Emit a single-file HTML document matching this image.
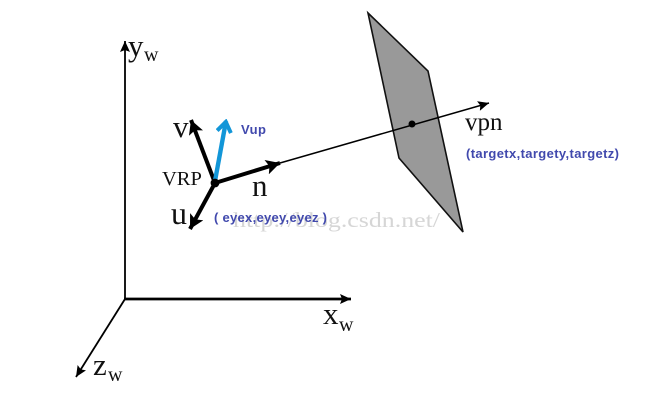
<!DOCTYPE html>
<html>
<head>
<meta charset="utf-8">
<style>
html,body{margin:0;padding:0;background:#fff;}
svg{display:block;}
.s{font-family:"Liberation Serif",serif;fill:#111;}
.b{font-family:"Liberation Sans",sans-serif;font-weight:bold;fill:#4149ad;}
</style>
</head>
<body>
<svg width="654" height="418" viewBox="0 0 654 418">
<defs>
<marker id="ah" markerUnits="userSpaceOnUse" markerWidth="12" markerHeight="10" refX="11" refY="5" orient="auto"><path d="M0,0 L11,5 L0,10 L2,5 Z" fill="#000"/></marker>
<marker id="ahb" markerUnits="userSpaceOnUse" markerWidth="15" markerHeight="15" refX="14" refY="7.5" orient="auto"><path d="M0,0 L14,7.5 L0,15 L3,7.5 Z" fill="#000"/></marker>
<marker id="ahc" markerUnits="userSpaceOnUse" markerWidth="16" markerHeight="17" refX="14" refY="8.5" orient="auto"><path d="M3,1.5 L13,8.5 L3,15.5" fill="none" stroke="#1296d8" stroke-width="4"/></marker>
</defs>
<rect width="654" height="418" fill="#fff"/>
<text x="233" y="227" font-family="'Liberation Serif',serif" font-size="21" fill="#d6d6d6" textLength="207" lengthAdjust="spacingAndGlyphs">http://blog.csdn.net/</text>
<polygon points="368,13 428,71 463,232 399,158" fill="#999" stroke="#111" stroke-width="1.6" stroke-linejoin="miter"/>
<line x1="125" y1="299" x2="125" y2="41" stroke="#000" stroke-width="1.8" marker-end="url(#ah)"/>
<line x1="124" y1="299" x2="351" y2="299" stroke="#000" stroke-width="2.8" marker-end="url(#ah)"/>
<line x1="125" y1="299" x2="76" y2="377" stroke="#000" stroke-width="1.8" marker-end="url(#ah)"/>
<line x1="280" y1="163" x2="489" y2="103" stroke="#000" stroke-width="1.5" marker-end="url(#ah)"/>
<line x1="215" y1="183" x2="191" y2="120" stroke="#000" stroke-width="4" marker-end="url(#ahb)"/>
<line x1="215" y1="183" x2="190" y2="229" stroke="#000" stroke-width="4" marker-end="url(#ahb)"/>
<line x1="215" y1="183" x2="280" y2="163" stroke="#000" stroke-width="4" marker-end="url(#ahb)"/>
<line x1="215" y1="181" x2="226" y2="121" stroke="#1296d8" stroke-width="4.4" marker-end="url(#ahc)"/>
<circle cx="215" cy="183" r="4.4" fill="#000"/>
<circle cx="412" cy="124" r="3.5" fill="#000"/>
<text class="s" x="128" y="56" font-size="31">y</text>
<text class="s" x="144" y="61" font-size="20">w</text>
<text class="s" x="323" y="324" font-size="31">x</text>
<text class="s" x="339" y="331" font-size="20">w</text>
<text class="s" x="93" y="375" font-size="31">z</text>
<text class="s" x="108" y="381" font-size="20">w</text>
<text class="s" x="173" y="137" font-size="31">v</text>
<text class="s" x="171" y="224" font-size="32">u</text>
<text class="s" x="252" y="196" font-size="31">n</text>
<text class="s" x="162" y="185" font-size="20.5">VRP</text>
<text class="s" x="465" y="130" font-size="25">vpn</text>
<text class="b" x="241" y="134" font-size="13" textLength="25">Vup</text>
<text class="b" x="214" y="222" font-size="13" textLength="113">( eyex,eyey,eyez )</text>
<text class="b" x="466" y="158" font-size="13" textLength="153">(targetx,targety,targetz)</text>
</svg>
</body>
</html>
